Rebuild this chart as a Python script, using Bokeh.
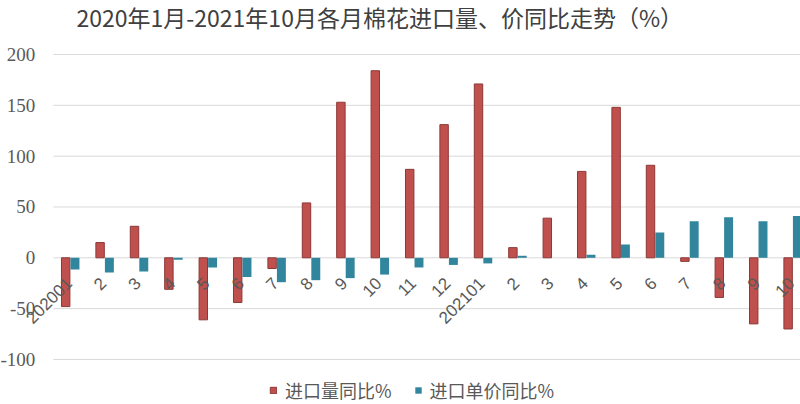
from bokeh.plotting import figure
from bokeh.models import (ColumnDataSource, Legend, LegendItem, FixedTicker, Label,
                          PrintfTickFormatter)
from bokeh.core.properties import value
from bokeh.embed import file_html
from bokeh.resources import INLINE
import math

title_text = "2020年1月-2021年10月各月棉花进口量、价同比走势（%）"
months = ["202001", "2", "3", "4", "5", "6", "7", "8", "9", "10", "11", "12",
          "202101", "2", "3", "4", "5", "6", "7", "8", "9", "10"]
volume_yoy = [-48, 15, 31, -31, -61, -44, -10.5, 54, 153, 184, 87, 131,
              171, 10, 39, 85, 148, 91, -3.5, -39, -65, -70]
price_yoy = [-11.5, -14.5, -13.5, -2, -9.5, -19, -24, -22, -20, -16.5, -9.5, -7,
             -5.5, 2, 0, 3, 13, 25, 36, 40, 36, 41]
y_ticks = [-100, -50, 0, 50, 100, 150, 200]

X_START, X_END = -2.035, 21.22
CAT_EDGE = -0.5

idx = list(range(len(months)))
src = ColumnDataSource(dict(
    xr=[i - 0.14 for i in idx],
    xb=[i + 0.13 for i in idx],
    xl=[i - 0.17 for i in idx],
    vol=volume_yoy,
    price=price_yoy,
    lab=months,
    ly=[-18] * len(idx),
))
grid_src = ColumnDataSource(dict(
    x0=[CAT_EDGE] * len(y_ticks),
    x1=[X_END] * len(y_ticks),
    y=y_ticks,
))

p = figure(width=800, height=404, output_backend="svg", toolbar_location=None,
           x_range=(X_START, X_END), y_range=(-144.3, 253.1),
           x_axis_location=None, min_border_left=0, min_border_right=0,
           min_border_top=0, min_border_bottom=0)
p.outline_line_color = None
p.background_fill_color = "white"
p.border_fill_color = "white"

p.xgrid.visible = False
p.ygrid.visible = False
p.segment(x0="x0", x1="x1", y0="y", y1="y", source=grid_src,
          line_color="#D9D9D9", line_width=1, level="underlay")

p.yaxis.fixed_location = CAT_EDGE
p.yaxis.ticker = FixedTicker(ticks=y_ticks)
p.yaxis.formatter = PrintfTickFormatter(format="%d")
p.yaxis.axis_line_color = None
p.yaxis.major_tick_line_color = None
p.yaxis.minor_tick_line_color = None
p.yaxis.major_tick_out = 0
p.yaxis.major_tick_in = 0
p.yaxis.minor_tick_out = 0
p.yaxis.major_label_standoff = 18
p.yaxis.major_label_text_font = "Liberation Serif"
p.yaxis.major_label_text_font_size = "19px"
p.yaxis.major_label_text_color = "#595959"

r1 = p.vbar(x="xr", top="vol", bottom=0, width=0.245, source=src,
            fill_color="#C0504D", line_color="#8C3836", line_width=1)
r2 = p.vbar(x="xb", top="price", bottom=0, width=0.26, source=src,
            fill_color="#31859C", line_color=None)

p.text(x="xl", y="ly", text="lab", source=src, angle=math.pi / 4,
       text_align="right", text_baseline="top",
       text_font=value("Liberation Sans"), text_font_size="17px",
       text_color="#595959")

title = Label(text=title_text, x=76, y=388, x_units="screen", y_units="screen",
              text_align="left", text_baseline="middle",
              text_font="Noto Sans CJK SC", text_font_size="23px",
              text_color="#404040")
p.add_layout(title)

legend = Legend(items=[LegendItem(label="进口量同比%", renderers=[r1]),
                       LegendItem(label="进口单价同比%", renderers=[r2])],
                orientation="horizontal", location=(269, 1),
                label_text_font="Noto Sans CJK SC", label_text_font_size="18px",
                label_text_color="#595959", glyph_width=8, glyph_height=8,
                spacing=22, border_line_color=None, background_fill_alpha=0,
                padding=0, margin=0, label_standoff=8)
p.add_layout(legend, "center")

open("out.html", "w").write(file_html(p, INLINE))
